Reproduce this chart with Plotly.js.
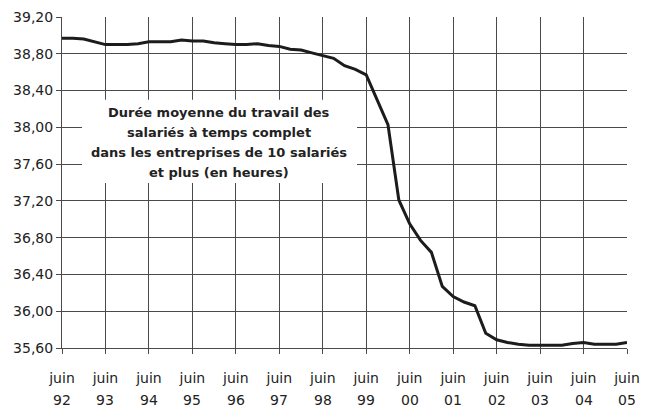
<!DOCTYPE html>
<html>
<head>
<meta charset="utf-8">
<script src="https://cdn.plot.ly/plotly-3.0.1.min.js"></script>
<style>html,body{margin:0;padding:0;background:#fff;}#chart{width:645px;height:408px;}</style>
</head>
<body>
<div id="chart"></div>
<script>
// Quarterly observations, juin 1992 -> juin 2005 (index 0 = juin 92)
const quarterIndex = Array.from({length: 53}, (_, i) => i);
const hours = [
  38.97, 38.97, 38.96, 38.93,
  38.90, 38.90, 38.90, 38.91,
  38.93, 38.93, 38.93, 38.95,
  38.94, 38.94, 38.92, 38.91,
  38.90, 38.90, 38.91, 38.89,
  38.88, 38.85, 38.84, 38.81,
  38.78, 38.75, 38.67, 38.63,
  38.57, 38.30, 38.03, 37.21,
  36.95, 36.77, 36.64, 36.27,
  36.16, 36.10, 36.06, 35.76,
  35.69, 35.66, 35.64, 35.63,
  35.63, 35.63, 35.63, 35.65,
  35.66, 35.64, 35.64, 35.64,
  35.66
];
const tickPositions = [0, 4, 8, 12, 16, 20, 24, 28, 32, 36, 40, 44, 48, 52];
const tickMonth = ["juin","juin","juin","juin","juin","juin","juin","juin","juin","juin","juin","juin","juin","juin"];
const tickYear = ["92","93","94","95","96","97","98","99","00","01","02","03","04","05"];
const titleLines = [
  "Durée moyenne du travail des",
  "salariés à temps complet",
  "dans les entreprises de 10 salariés",
  "et plus (en heures)"
];

const gridColor = "#4a4a4a";
const fontFamily = "DejaVu Sans, Verdana, sans-serif";
const tickFont = {family: fontFamily, size: 14, color: "#222"};

const trace = {
  x: quarterIndex, y: hours, type: "scatter", mode: "lines",
  line: {color: "#1c1c1c", width: 3},
  hoverinfo: "skip"
};

const lineYs = [0.7103, 0.6498, 0.5893, 0.5288];
const annotations = titleLines.map((t, k) => ({
  xref: "paper", yref: "paper", x: 0.2786, y: lineYs[k],
  xanchor: "center", yanchor: "middle", showarrow: false,
  text: "<b>" + t + "</b>",
  font: {family: fontFamily, size: 13, color: "#222"}
}));
// second line of the x tick labels (year)
tickPositions.forEach((p, k) => annotations.push({
  xref: "x", yref: "paper", x: p, y: -0.158,
  xanchor: "center", yanchor: "middle", showarrow: false,
  text: tickYear[k], font: tickFont
}));

const layout = {
  width: 645, height: 408,
  margin: {l: 62, r: 18, t: 17, b: 60},
  paper_bgcolor: "#fff", plot_bgcolor: "#fff",
  separators: ", ",
  showlegend: false,
  xaxis: {
    range: [0, 52], tickmode: "array", tickvals: tickPositions, ticktext: tickMonth,
    showgrid: true, gridcolor: gridColor, gridwidth: 1,
    showline: true, linecolor: gridColor, linewidth: 1,
    ticks: "outside", ticklen: 5, tickcolor: gridColor, tickwidth: 1,
    tickfont: tickFont, ticklabelstandoff: 12, zeroline: false, fixedrange: true
  },
  yaxis: {
    range: [35.6, 39.2], tick0: 35.6, dtick: 0.4, tickformat: ".2f",
    showgrid: true, gridcolor: gridColor, gridwidth: 1,
    showline: true, linecolor: gridColor, linewidth: 1, mirror: false,
    ticks: "outside", ticklen: 5, tickcolor: gridColor, tickwidth: 1,
    tickfont: tickFont, zeroline: false, fixedrange: true
  },
  shapes: [{
    type: "rect", xref: "paper", yref: "paper",
    x0: 0.0354, x1: 0.5222, y0: 0.4985, y1: 0.75,
    fillcolor: "#fff", line: {width: 0}, layer: "above"
  }],
  annotations: annotations
};

Plotly.newPlot("chart", [trace], layout, {staticPlot: true, displayModeBar: false});
</script>
</body>
</html>
